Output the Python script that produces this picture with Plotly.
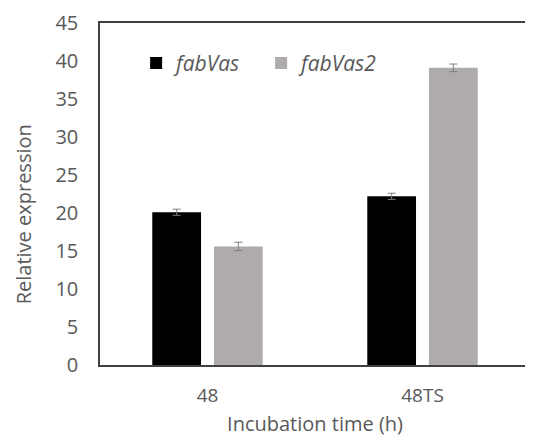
import plotly.graph_objects as go

categories = ["48", "48TS"]
fabVas = [20.1, 22.2]
fabVas_err = [0.4, 0.4]
fabVas2 = [15.6, 39.1]
fabVas2_err = [0.55, 0.5]
y_ticks = [0, 5, 10, 15, 20, 25, 30, 35, 40, 45]

font_family = "Open Sans, Noto Sans, sans-serif"
text_color = "#595959"
err_color = "#7f7f7f"

fig = go.Figure()
fig.add_trace(go.Bar(
    name="<i>fabVas</i>", x=categories, y=fabVas,
    marker=dict(color="#000000", line=dict(width=0)),
    error_y=dict(type="data", array=fabVas_err, visible=True, color=err_color, thickness=1, width=4),
))
fig.add_trace(go.Bar(
    name="<i>fabVas2</i>", x=categories, y=fabVas2,
    marker=dict(color="#AFABAB", line=dict(width=0)),
    error_y=dict(type="data", array=fabVas2_err, visible=True, color=err_color, thickness=1, width=4),
))

# page body has an 8px margin, so the figure is sized to the remaining window
fig.update_layout(
    width=525, height=435,
    margin=dict(l=92, r=1, t=14, b=78),
    paper_bgcolor="white", plot_bgcolor="white",
    barmode="group", bargap=0.426, bargroupgap=0.21,
    font=dict(family=font_family, color=text_color, size=19),
    showlegend=True,
    legend=dict(
        orientation="h", x=0.084, y=0.882, xanchor="left", yanchor="middle",
        bgcolor="rgba(0,0,0,0)", font=dict(size=21, color=text_color),
        entrywidth=80, itemclick=False,
    ),
    xaxis=dict(
        showline=True, linecolor="#404040", linewidth=1.5, mirror=True,
        ticks="", ticklabelstandoff=12, tickfont=dict(size=19, color=text_color),
        title=dict(text="Incubation time (h)", font=dict(size=20, color=text_color), standoff=10),
    ),
    yaxis=dict(
        range=[0, 45], tickvals=y_ticks, showgrid=False, zeroline=False,
        showline=True, linecolor="#404040", linewidth=1.5, mirror=True,
        ticks="", ticklabelstandoff=16, tickfont=dict(size=20, color=text_color),
    ),
    annotations=[dict(
        text="Relative expression", textangle=-90, showarrow=False,
        xref="paper", yref="paper", x=-0.178, y=0.442, xanchor="center", yanchor="middle",
        font=dict(size=20, color=text_color),
    )],
)

fig.write_html("out.html")
